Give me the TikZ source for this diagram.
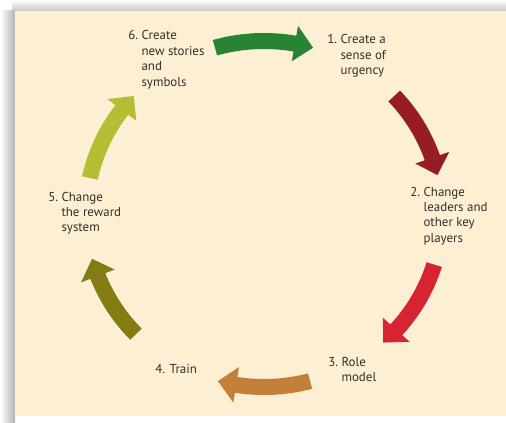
\documentclass[tikz,border=0pt]{standalone}
\usepackage{fontspec}
\setmainfont{PT Sans}

\definecolor{cpanel}{RGB}{253,239,212}
\definecolor{ctext}{RGB}{52,46,42}
\definecolor{cgreen}{RGB}{40,132,50}
\definecolor{cdarkred}{RGB}{150,28,38}
\definecolor{cred}{RGB}{214,36,50}
\definecolor{cbrown}{RGB}{196,128,58}
\definecolor{colive}{RGB}{130,124,18}
\definecolor{cyellow}{RGB}{180,190,50}

\begin{document}
\begin{tikzpicture}[x=0.75pt, y=0.75pt]
%------------------------------------------------------------------------------------------------
% Styles

    \tikzset{steplabel/.style={anchor=base west, inner sep=0pt, text=ctext,
            font=\fontsize{9.7}{11.55}\selectfont}
    }
%------------------------------------------------------------------------------------------------
% panel with its shadow
\fill[white] (0,0) rectangle (506,422);
\shade[top color=white, bottom color=gray!45] (12,411) rectangle (506,422);
\shade[left color=white, right color=gray!60] (0,0) rectangle (15,411);
\fill[cpanel] (15,6) rectangle (506,411);

% curved arrows, clockwise
\begin{scope}[shift={(264,208)}]
    \foreach \tl/\tp/\col in {106/74/cgreen, 43/13/cdarkred, -17/-48/cred,
                              -75/-105/cbrown, 224/195/colive, 168/137/cyellow} {
        \pgfmathsetmacro{\hb}{\tp+6}
        \fill[\col] (\tl:186 and 181) arc[start angle=\tl, end angle=\hb, x radius=186, y radius=181]
            -- (\hb:196 and 191) -- (\tp:178 and 173) -- (\hb:160 and 155) -- (\hb:170 and 165)
            arc[start angle=\hb, end angle=\tl, x radius=170, y radius=165] -- cycle;
    }
\end{scope}

% step labels
\node[steplabel] (s1) at (327,378) {\begin{tabular}[t]{@{}l@{\ }l@{}}1. & Create a\\ & sense of\\ & urgency\end{tabular}};
\node[steplabel] (s2) at (410,226) {\begin{tabular}[t]{@{}l@{\ }l@{}}2. & Change\\ & leaders and\\ & other key\\ & players\end{tabular}};
\node[steplabel] (s3) at (328,56) {\begin{tabular}[t]{@{}l@{\ }l@{}}3. & Role\\ & model\end{tabular}};
\node[steplabel] (s4) at (155,49) {4. Train};
\node[steplabel] (s5) at (48,221) {\begin{tabular}[t]{@{}l@{\ }l@{}}5. & Change\\ & the reward\\ & system\end{tabular}};
\node[steplabel] (s6) at (128,382) {\begin{tabular}[t]{@{}l@{\ }l@{}}6. & Create\\ & new stories\\ & and\\ & symbols\end{tabular}};

\end{tikzpicture}
\end{document}
